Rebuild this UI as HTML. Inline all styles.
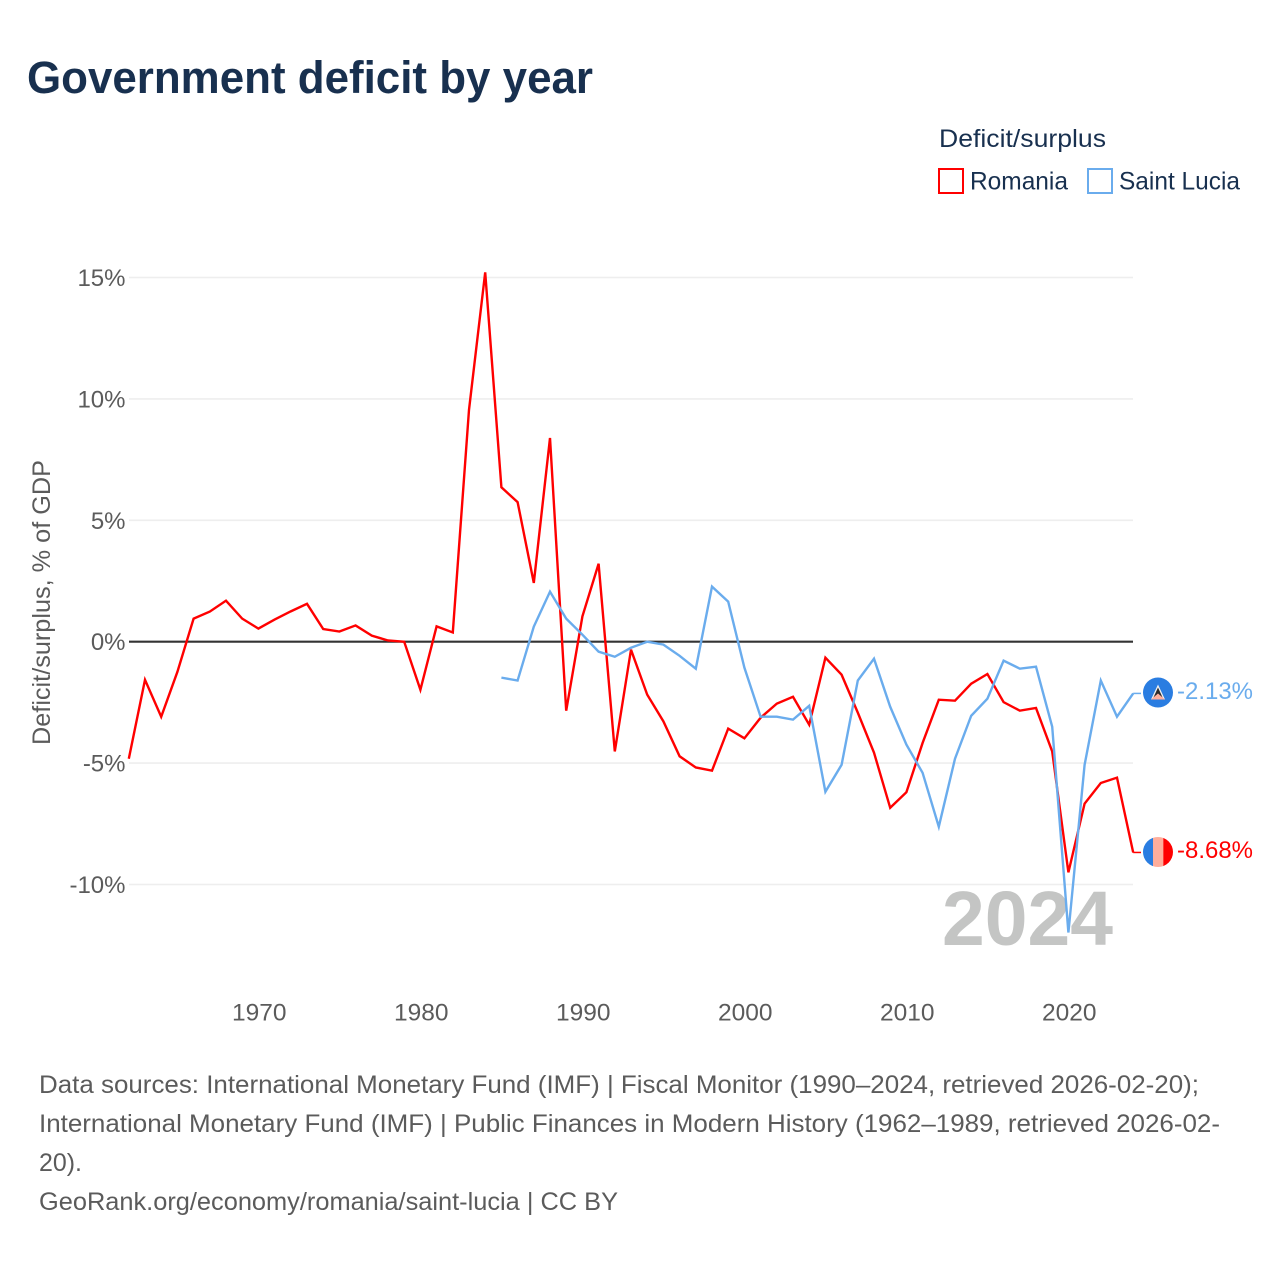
<!DOCTYPE html>
<html lang="en">
<head>
<meta charset="utf-8">
<title>Government deficit by year</title>
<style>
  html, body { margin: 0; padding: 0; background: #ffffff; }
  svg { display: block; font-family: "Liberation Sans", sans-serif; }
</style>
</head>
<body>
<svg id="chart" xmlns="http://www.w3.org/2000/svg" width="1280" height="1280" viewBox="0 0 1280 1280">
  <defs>
    <clipPath id="flag-clip-lc"><circle cx="1158" cy="692.5" r="15"/></clipPath>
    <clipPath id="flag-clip-ro"><circle cx="1158" cy="852" r="15"/></clipPath>
  </defs>
  <rect x="0" y="0" width="1280" height="1280" fill="#ffffff"/>

  <text x="27" y="93" font-size="45" font-weight="700" fill="#18304f" textLength="566" lengthAdjust="spacingAndGlyphs">Government deficit by year</text>

  <g>
    <text x="939" y="147" font-size="25" fill="#18304f" textLength="167" lengthAdjust="spacingAndGlyphs">Deficit/surplus</text>
    <rect x="939" y="169" width="24" height="24" fill="#ffffff" stroke="#ff0000" stroke-width="2"/>
    <text x="970" y="189.5" font-size="25" fill="#18304f" textLength="98" lengthAdjust="spacingAndGlyphs">Romania</text>
    <rect x="1088" y="169" width="24" height="24" fill="#ffffff" stroke="#6aaced" stroke-width="2"/>
    <text x="1119" y="189.5" font-size="25" fill="#18304f" textLength="121" lengthAdjust="spacingAndGlyphs">Saint Lucia</text>
  </g>

  <g id="grid"></g>
  <g id="y-ticks"></g>
  <g id="x-ticks"></g>

  <text transform="translate(50,745) rotate(-90)" x="0" y="0" font-size="25" fill="#5b5b5b" textLength="285" lengthAdjust="spacingAndGlyphs">Deficit/surplus, % of GDP</text>

  <text x="942" y="945" font-size="77" font-weight="700" fill="#c4c5c4" textLength="171" lengthAdjust="spacingAndGlyphs">2024</text>

  <g id="zero-layer"></g>
  <g id="series"></g>

  <g>
    <g clip-path="url(#flag-clip-lc)">
      <rect x="1143" y="677" width="30" height="31" fill="#2a7de1"/>
      <polygon points="1158,684.5 1165,699.5 1151,699.5" fill="#f2f2f2"/>
      <polygon points="1158,687.5 1163.5,699.5 1152.5,699.5" fill="#2b2b2b"/>
      <polygon points="1158,693.5 1165,699.5 1151,699.5" fill="#ffae9c"/>
    </g>
    <text x="1177" y="699" font-size="24" fill="#6aaced" textLength="76" lengthAdjust="spacingAndGlyphs">-2.13%</text>
  </g>

  <g>
    <g clip-path="url(#flag-clip-ro)">
      <rect x="1143" y="837" width="10" height="31" fill="#2a7de1"/>
      <rect x="1153" y="837" width="10.3" height="31" fill="#ffae9c"/>
      <rect x="1163.3" y="837" width="10" height="31" fill="#ff0000"/>
    </g>
    <text x="1177" y="858" font-size="24" fill="#ff0000" textLength="76" lengthAdjust="spacingAndGlyphs">-8.68%</text>
  </g>

  <g font-size="25" fill="#5b5b5b">
    <text x="39" y="1093" textLength="1160" lengthAdjust="spacingAndGlyphs">Data sources: International Monetary Fund (IMF) | Fiscal Monitor (1990–2024, retrieved 2026-02-20);</text>
    <text x="39" y="1132" textLength="1181" lengthAdjust="spacingAndGlyphs">International Monetary Fund (IMF) | Public Finances in Modern History (1962–1989, retrieved 2026-02-</text>
    <text x="39" y="1171" textLength="43" lengthAdjust="spacingAndGlyphs">20).</text>
    <text x="39" y="1210" textLength="579" lengthAdjust="spacingAndGlyphs">GeoRank.org/economy/romania/saint-lucia | CC BY</text>
  </g>
</svg>

<script>
const yTickValues = [15, 10, 5, 0, -5, -10];
const xTickYears = [1970, 1980, 1990, 2000, 2010, 2020];
const romaniaStartYear = 1962;
const romaniaValues = [
  -4.82, -1.57, -3.09, -1.24, 0.95, 1.24, 1.69, 0.95, 0.54, 0.91,
  1.25, 1.56, 0.52, 0.42, 0.67, 0.25, 0.05, 0.0, -1.98, 0.63,
  0.38, 9.55, 15.21, 6.36, 5.75, 2.42, 8.39, -2.84, 1.04, 3.21,
  -4.52, -0.33, -2.18, -3.28, -4.72, -5.18, -5.31, -3.58, -3.98, -3.13,
  -2.55, -2.27, -3.42, -0.66, -1.36, -2.92, -4.57, -6.84, -6.2, -4.17,
  -2.39, -2.43, -1.73, -1.33, -2.49, -2.84, -2.73, -4.52, -9.5, -6.67,
  -5.82, -5.6, -8.68
];
const saintLuciaStartYear = 1985;
const saintLuciaValues = [
  -1.48, -1.6, 0.62, 2.06, 0.95, 0.29, -0.41, -0.62, -0.25, 0.0,
  -0.12, -0.58, -1.11, 2.27, 1.65, -1.07, -3.09, -3.09, -3.21, -2.64,
  -6.18, -5.07, -1.6, -0.7, -2.68, -4.24, -5.4, -7.62, -4.82, -3.05,
  -2.35, -0.78, -1.11, -1.03, -3.5, -11.98, -5.07, -1.6, -3.09, -2.13
];

const SVG_NS = 'http://www.w3.org/2000/svg';
const PLOT_LEFT = 129;
const PLOT_RIGHT = 1133;
const STUB_END = 1141;

function xScale(year) {
  return 1068.4 + (year - 2020) * 16.2;
}
function yScale(value) {
  return 641.7 - value * 24.28;
}
function makeEl(tag) {
  return document.createElementNS(SVG_NS, tag);
}

const gridGroup = document.getElementById('grid');
const zeroLayer = document.getElementById('zero-layer');
const yTickGroup = document.getElementById('y-ticks');
yTickValues.forEach(function (tick) {
  const line = makeEl('line');
  
  
  line.setAttribute('x1', PLOT_LEFT);
  line.setAttribute('x2', PLOT_RIGHT);
  line.setAttribute('y1', yScale(tick));
  line.setAttribute('y2', yScale(tick));
  line.setAttribute('stroke', tick === 0 ? '#333333' : '#eeeeee');
  line.setAttribute('stroke-width', tick === 0 ? 2.2 : 1.6);
  (tick === 0 ? zeroLayer : gridGroup).appendChild(line);

  const label = makeEl('text');
  
  
  label.setAttribute('x', 125.5);
  label.setAttribute('y', yScale(tick) + 8.5);
  label.setAttribute('text-anchor', 'end');
  label.setAttribute('font-size', '24');
  label.setAttribute('fill', '#5b5b5b');
  label.textContent = tick + '%';
  yTickGroup.appendChild(label);
});

const xTickGroup = document.getElementById('x-ticks');
xTickYears.forEach(function (year) {
  const label = makeEl('text');
  
  
  label.setAttribute('x', xScale(year) + 0.9);
  label.setAttribute('y', 1020.5);
  label.setAttribute('text-anchor', 'middle');
  label.setAttribute('font-size', '24.5');
  label.setAttribute('fill', '#5b5b5b');
  label.textContent = year;
  xTickGroup.appendChild(label);
});

function drawSeries(name, startYear, values, color) {
  const parts = values.map(function (value, index) {
    return xScale(startYear + index).toFixed(2) + ',' + yScale(value).toFixed(2);
  });
  const last = values[values.length - 1];
  const path = makeEl('polyline');
  
  
  path.setAttribute('points', parts.join(' '));
  path.setAttribute('fill', 'none');
  path.setAttribute('stroke', color);
  path.setAttribute('stroke-width', '2.4');
  path.setAttribute('stroke-linejoin', 'miter');
  document.getElementById('series').appendChild(path);

  const stub = makeEl('line');
  
  
  stub.setAttribute('x1', xScale(startYear + values.length - 1));
  stub.setAttribute('x2', STUB_END);
  stub.setAttribute('y1', yScale(last));
  stub.setAttribute('y2', yScale(last));
  stub.setAttribute('stroke', color);
  stub.setAttribute('stroke-width', '1.5');
  document.getElementById('series').appendChild(stub);
}

drawSeries('romania', romaniaStartYear, romaniaValues, '#ff0000');
drawSeries('saint-lucia', saintLuciaStartYear, saintLuciaValues, '#6aaced');
</script>
</body>
</html>
